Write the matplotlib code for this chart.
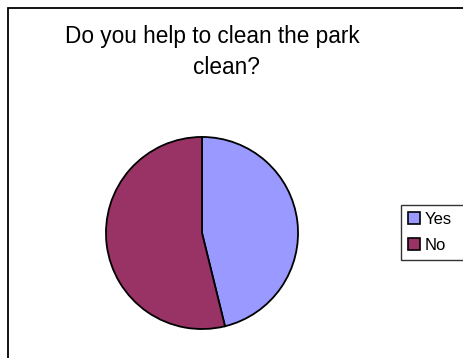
import matplotlib.pyplot as plt
from matplotlib.patches import Rectangle

labels = ['Yes', 'No']
values = [6, 7]
colors = ['#9999FF', '#993366']

W, H = 463, 358
plt.rcParams['font.family'] = ['Liberation Sans', 'DejaVu Sans']
fig = plt.figure(figsize=(W / 100, H / 100), dpi=100)

# outer chart frame (right and bottom edges run off the picture)
fig.patches.append(Rectangle((8 / W, -0.1), 1.2, 1.1 - 8 / H, transform=fig.transFigure,
                             fill=False, edgecolor='black', linewidth=1.3))

cx, cy, r = 202, 233, 97
ax = fig.add_axes([(cx - r) / W, (H - cy - r) / H, 2 * r / W, 2 * r / H])
wedges, _ = ax.pie(values, colors=colors, startangle=90, counterclock=False,
                   wedgeprops=dict(edgecolor='black', linewidth=1.3))
ax.set_xlim(-1.01, 1.01)
ax.set_ylim(-1.01, 1.01)

fig.text(212 / W, 1 - 37 / H, 'Do you help to clean the park', ha='center', va='center', fontsize=16.3)
fig.text(226 / W, 1 - 67 / H, 'clean?', ha='center', va='center', fontsize=16.3)

# legend box runs off the right edge like in the original
leg = fig.legend(wedges, labels, loc='upper left', bbox_to_anchor=(401 / W, 1 - 205 / H, 66 / W, 0),
                 mode='expand', fontsize=12, frameon=True, fancybox=False, shadow=False,
                 handlelength=0.72, handleheight=0.72, handletextpad=0.3,
                 borderpad=0.4, labelspacing=0.68, borderaxespad=0)
leg.get_frame().set_edgecolor('black')
leg.get_frame().set_linewidth(1.0)
for h in leg.legend_handles:
    h.set_edgecolor('black')
    h.set_linewidth(1.2)

fig.savefig('out.png', dpi=100)
